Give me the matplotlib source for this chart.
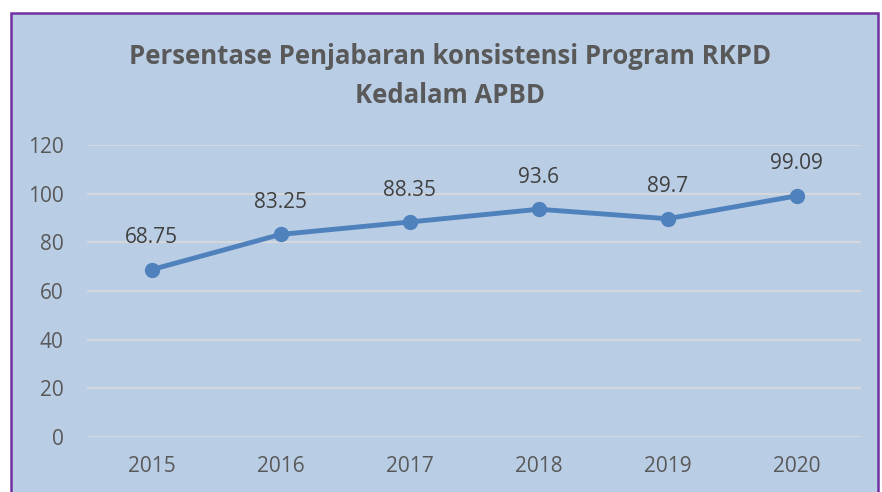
import matplotlib.pyplot as plt
from matplotlib.patches import Rectangle

years = ["2015", "2016", "2017", "2018", "2019", "2020"]
values = [68.75, 83.25, 88.35, 93.6, 89.7, 99.09]
labels = ["68.75", "83.25", "88.35", "93.6", "89.7", "99.09"]
y_ticks = [0, 20, 40, 60, 80, 100, 120]

bg = "#B9CDE5"
grey_text = "#595959"

fig = plt.figure(figsize=(8.82, 4.92), dpi=100)
fig.patch.set_facecolor("white")

# chart frame (bottom edge falls outside the crop)
W, H = 882, 492
frame = Rectangle((11 / W, -0.05), (878 - 11) / W, (H - 13) / H + 0.05,
                  transform=fig.transFigure, facecolor=bg, edgecolor="#7030A0",
                  linewidth=1.8, zorder=-5)
fig.patches.append(frame)

ax = fig.add_axes([87 / W, 1 - 437 / H, (861 - 87) / W, (437 - 145) / H])
ax.set_facecolor("none")

x = list(range(len(years)))
ax.plot(x, values, color="#4F81BD", linewidth=3.5, marker="o", markersize=10,
        solid_capstyle="round", zorder=3)

for xi, v, lab in zip(x, values, labels):
    ax.annotate(lab, (xi, v), xytext=(0, 23), textcoords="offset points",
                ha="center", va="center", fontsize=15, color="#404040",
                family="Open Sans")

ax.set_xlim(-0.5, len(years) - 0.5)
ax.set_ylim(0, 120)
ax.set_yticks(y_ticks)
ax.set_xticks(x)
ax.set_xticklabels(years)
ax.grid(axis="y", color="#D9D9D9", linewidth=1.3)
ax.set_axisbelow(True)
for s in ax.spines.values():
    s.set_visible(False)
ax.tick_params(length=0, labelsize=15, labelcolor=grey_text)
for t in ax.get_xticklabels() + ax.get_yticklabels():
    t.set_family("Open Sans")
ax.tick_params(axis="x", pad=14)
ax.tick_params(axis="y", pad=17)

fig.text(450 / W, 1 - 76 / H, "Persentase Penjabaran konsistensi Program RKPD\nKedalam APBD",
         ha="center", va="center", fontsize=18.5, fontweight="bold", color=grey_text,
         family="Open Sans", linespacing=1.55)

fig.savefig("out.png", dpi=100)
